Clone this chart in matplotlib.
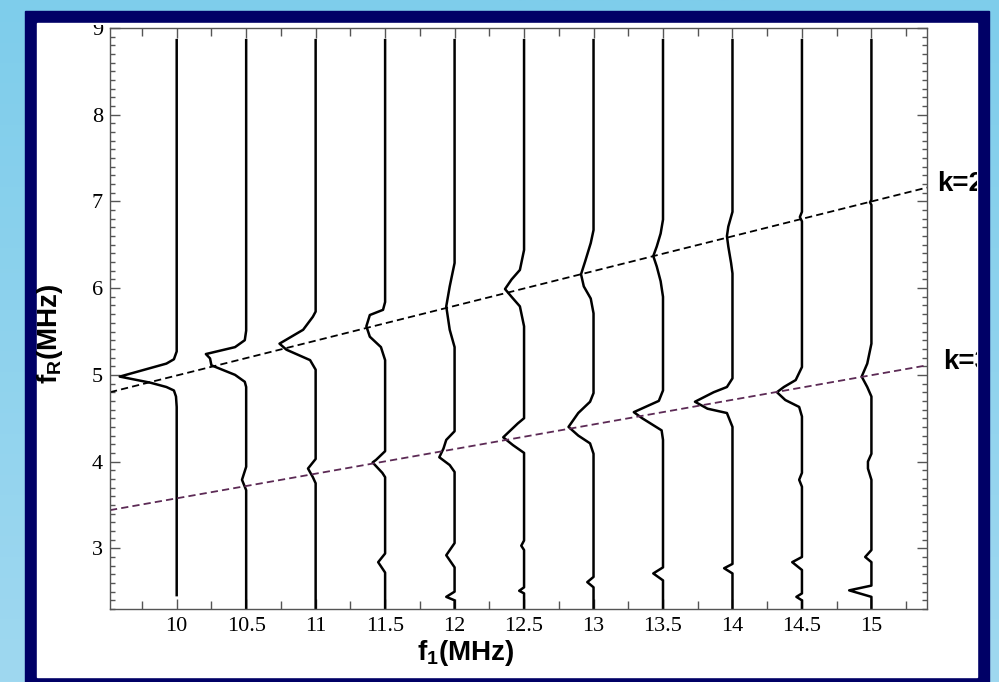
import numpy as np
import matplotlib
matplotlib.use('Agg')
import matplotlib.pyplot as plt
from matplotlib.patches import Rectangle
from matplotlib.transforms import Bbox, TransformedBbox
from matplotlib.ticker import MultipleLocator, FixedLocator, FuncFormatter
from matplotlib.colors import LinearSegmentedColormap

plt.rcParams['font.family'] = 'Liberation Serif'
plt.rcParams['mathtext.fontset'] = 'custom'
plt.rcParams['mathtext.rm'] = 'Liberation Sans:bold'
plt.rcParams['mathtext.it'] = 'Liberation Sans:bold'
plt.rcParams['mathtext.bf'] = 'Liberation Sans:bold'

W, H = 999, 682

# pump frequencies f1 (MHz), one trace per value
f1_values = [10.0, 10.5, 11.0, 11.5, 12.0, 12.5, 13.0, 13.5, 14.0, 14.5, 15.0]

# each trace: f_R points (MHz) and leftward shift from f1 (MHz)
fr_100 = [8.86, 5.37, 5.27, 5.18, 5.13, 4.98, 4.91, 4.86, 4.82, 4.75, 4.63, 2.46]
dx_100 = [0, 0, 0.0, 0.02, 0.074, 0.41, 0.19, 0.074, 0.02, 0.005, 0, 0]

fr_105 = [8.86, 5.51, 5.40, 5.32, 5.24, 5.19, 5.11, 5.00, 4.92, 4.86, 3.94, 3.79, 3.67, 2.3]
dx_105 = [0, 0, 0.01, 0.08, 0.29, 0.26, 0.25, 0.08, 0.01, 0, 0, 0.03, 0, 0]

fr_110 = [8.86, 5.73, 5.67, 5.52, 5.36, 5.29, 5.17, 5.06, 4.03, 3.92, 3.82, 3.75, 2.3]
dx_110 = [0, 0, 0.02, 0.09, 0.26, 0.21, 0.04, 0, 0, 0.055, 0.02, 0, 0]

fr_115 = [8.86, 5.84, 5.75, 5.69, 5.56, 5.44, 5.32, 5.17, 4.12, 4.02, 3.99, 3.87, 3.82,
          2.94, 2.84, 2.72, 2.3]
dx_115 = [0, 0, 0.015, 0.11, 0.135, 0.11, 0.03, 0, 0, 0.065, 0.09, 0.02, 0,
          0, 0.05, 0, 0]

fr_120 = [8.86, 6.29, 6.02, 5.79, 5.52, 5.32, 4.35, 4.25, 4.15, 4.05, 3.96, 3.88,
          3.06, 2.92, 2.78, 2.50, 2.44, 2.40, 2.3]
dx_120 = [0, 0, 0.035, 0.06, 0.035, 0, 0, 0.06, 0.08, 0.11, 0.035, 0,
          0, 0.06, 0, 0, 0.06, 0, 0]

fr_125 = [8.86, 6.44, 6.21, 6.10, 5.99, 5.90, 5.79, 5.56, 4.50, 4.44, 4.28, 4.19, 4.10,
          3.09, 3.03, 2.98, 2.55, 2.51, 2.48, 2.3]
dx_125 = [0, 0, 0.03, 0.09, 0.137, 0.09, 0.03, 0, 0, 0.045, 0.15, 0.08, 0,
          0, 0.02, 0, 0, 0.035, 0, 0]

fr_130 = [8.86, 6.67, 6.52, 6.31, 6.16, 6.02, 5.88, 5.71, 4.79, 4.69, 4.56, 4.40, 4.30,
          4.21, 4.09, 2.67, 2.61, 2.55, 2.3]
dx_130 = [0, 0, 0.02, 0.06, 0.09, 0.07, 0.02, 0, 0, 0.025, 0.11, 0.18, 0.11,
          0.025, 0, 0, 0.045, 0, 0]

fr_135 = [8.86, 6.79, 6.63, 6.48, 6.37, 6.25, 6.08, 5.90, 4.82, 4.70, 4.57, 4.50, 4.36,
          4.25, 2.78, 2.71, 2.63, 2.3]
dx_135 = [0, 0, 0.017, 0.045, 0.07, 0.045, 0.017, 0, 0, 0.03, 0.21, 0.15, 0.01,
          0, 0, 0.07, 0, 0]

fr_140 = [8.86, 6.88, 6.71, 6.60, 6.48, 6.29, 6.17, 4.96, 4.86, 4.80, 4.69, 4.61, 4.56,
          4.40, 2.82, 2.77, 2.71, 2.3]
dx_140 = [0, 0, 0.03, 0.04, 0.03, 0.01, 0, 0, 0.04, 0.135, 0.27, 0.18, 0.04,
          0, 0, 0.06, 0, 0]

fr_145 = [8.86, 6.88, 6.82, 6.77, 5.09, 4.94, 4.86, 4.80, 4.71, 4.63, 4.52, 3.87, 3.79,
          3.71, 2.90, 2.84, 2.75, 2.48, 2.44, 2.40, 2.3]
dx_145 = [0, 0, 0.015, 0, 0, 0.045, 0.13, 0.18, 0.12, 0.02, 0, 0, 0.02,
          0, 0, 0.07, 0, 0, 0.04, 0, 0]

fr_150 = [8.86, 7.02, 6.99, 6.96, 5.36, 5.13, 4.98, 4.86, 4.75, 4.09, 4.00, 3.92, 3.79,
          2.98, 2.90, 2.84, 2.57, 2.515, 2.44, 2.3]
dx_150 = [0, 0, 0.01, 0, 0, 0.03, 0.07, 0.03, 0, 0, 0.025, 0.025, 0,
          0, 0.045, 0, 0, 0.16, 0, 0]

curves_fr = [fr_100, fr_105, fr_110, fr_115, fr_120, fr_125,
             fr_130, fr_135, fr_140, fr_145, fr_150]
curves_dx = [dx_100, dx_105, dx_110, dx_115, dx_120, dx_125,
             dx_130, dx_135, dx_140, dx_145, dx_150]

# resonance lines k=2 and k=3 (end points at the axis edges)
k2_f = [9.52, 15.40]
k2_fr = [4.80, 7.16]
k3_f = [9.52, 15.40]
k3_fr = [3.44, 5.11]

x_ticks = [10, 10.5, 11, 11.5, 12, 12.5, 13, 13.5, 14, 14.5, 15]

fig = plt.figure(figsize=(W / 100, H / 100), dpi=100)

# slide background: sky gradient, navy frame, white panel
bg = fig.add_axes([0, 0, 1, 1], zorder=-10)
bg.set_axis_off()
sky = LinearSegmentedColormap.from_list('sky', ['#7ecdeb', '#9fd8f0'])
bg.imshow(np.linspace(0, 1, 256).reshape(-1, 1), aspect='auto', cmap=sky,
          extent=[0, 1, 0, 1], origin='upper')
bg.add_patch(Rectangle((25 / W, 0), 964 / W, 671 / H, color='#000066'))
bg.add_patch(Rectangle((37 / W, 5 / H), 940 / W, 654 / H, color='white'))
bg.set_xlim(0, 1)
bg.set_ylim(0, 1)

white_clip = TransformedBbox(Bbox.from_extents(37 / W, 5 / H, 977 / W, 657 / H), fig.transFigure)

ax = fig.add_axes([110 / W, 73 / H, 817 / W, 581 / H])
ax.set_facecolor('none')

for f1, fr, dx in zip(f1_values, curves_fr, curves_dx):
    ax.plot(f1 - np.array(dx), fr, color='black', lw=1.8, solid_joinstyle='round')

ax.plot(k2_f, k2_fr, color='black', lw=1.3, dashes=(4, 2.3))
ax.plot(k3_f, k3_fr, color='#5c2a55', lw=1.3, dashes=(4, 2.3))

ax.set_xlim(9.52, 15.40)
ax.set_ylim(2.3, 9.0)
ax.xaxis.set_major_locator(FixedLocator(x_ticks))
ax.xaxis.set_major_formatter(FuncFormatter(lambda v, p: '%g' % v))
ax.xaxis.set_minor_locator(MultipleLocator(0.25))
ax.yaxis.set_major_locator(MultipleLocator(1))
ax.yaxis.set_minor_locator(MultipleLocator(0.1))

for s in ax.spines.values():
    s.set_color('#555555')
    s.set_linewidth(1.0)

ax.tick_params(which='both', direction='in', top=True, right=True,
               color='#555555', width=1.0, labelsize=16, labelcolor='black')
ax.tick_params(axis='x', which='major', length=7.5, pad=6)
ax.tick_params(axis='x', which='minor', length=5.8)
ax.tick_params(axis='y', which='major', length=7.5, pad=5)
ax.tick_params(axis='y', which='minor', length=3.6)

for t in ax.get_yticklabels():
    t.set_clip_box(white_clip)
    t.set_clip_on(True)

lab = dict(fontsize=20, fontweight='bold', family='Liberation Sans')
fig.text(466 / W, 22 / H, r'f$_1$(MHz)', ha='center', va='baseline', **lab)
fig.text(50 / W, (H - 334) / H, r'f$_R$(MHz)', rotation=90, ha='center', va='center', **lab)

for txt, xp, yp in [('k=2', 937, 184), ('k=3', 943, 362)]:
    t = fig.text(xp / W, (H - yp) / H, txt, ha='left', va='center', **lab)
    t.set_clip_box(white_clip)
    t.set_clip_on(True)

fig.savefig('out.png', dpi=100)
